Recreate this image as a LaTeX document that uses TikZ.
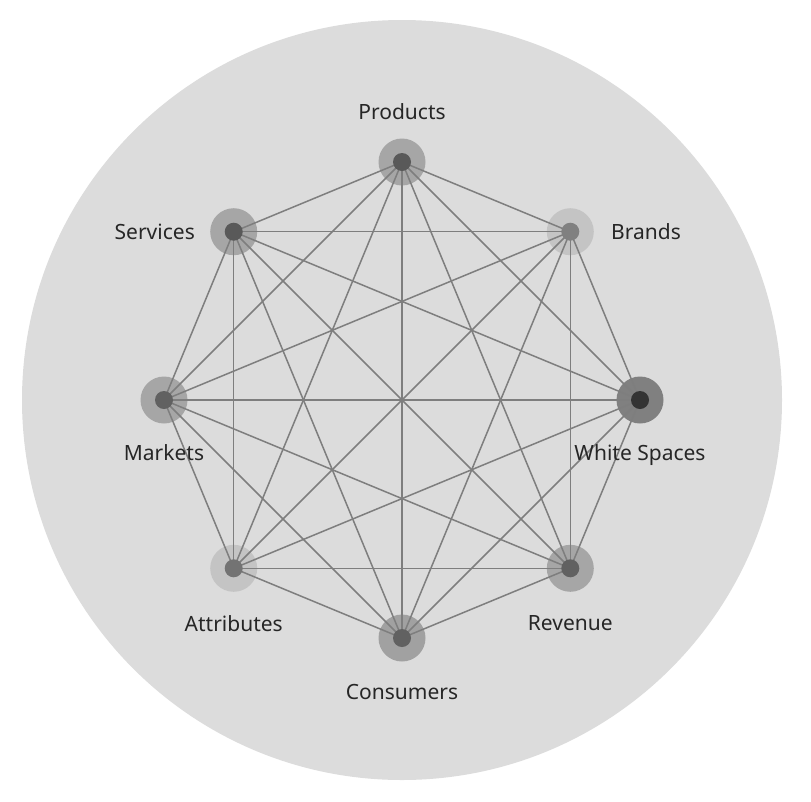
\documentclass[tikz,border=0pt]{standalone}
\usepackage{fontspec}
\setmainfont{Noto Sans}
\usetikzlibrary{positioning}
\pgfdeclarelayer{back}
\pgfdeclarelayer{mid}
\pgfsetlayers{back,mid,main}

\definecolor{disc}{HTML}{DCDCDC}
\definecolor{wire}{HTML}{7E7E7E}
\tikzset{
  dot/.style={circle, fill=#1, inner sep=0pt, minimum size=18pt},
  halo/.style={circle, fill=#1, inner sep=0pt, minimum size=47pt},
  edge/.style={draw=wire, line width=1.5pt},
  lbl/.style={font=\fontsize{21}{25}\selectfont, text=black!85, inner sep=0pt}
}

\begin{document}
\begin{tikzpicture}[x=1pt, y=-1pt, node distance=14pt]
  \useasboundingbox (0,0) rectangle (811,801);
  \begin{pgfonlayer}{back}
    \fill[disc] (402,400) circle (380);
  \end{pgfonlayer}

  % the eight dots, clockwise from the top
  \foreach \name/\ang/\hc/\dc in {prod/90/black!35/black!65, brand/45/black!23/black!50,
      white/0/black!50/black!80, rev/-45/black!35/black!62, cons/-90/black!37/black!62,
      attr/-135/black!23/black!55, mark/180/black!35/black!62, serv/135/black!35/black!65} {
    \node[dot=\dc] (\name) at ({402+238*cos(\ang)}, {400-238*sin(\ang)}) {};
    \begin{pgfonlayer}{back}
      \node[halo=\hc] (\name-h) at (\name) {};
    \end{pgfonlayer}
  }

  % every dot joined to every other
  \begin{pgfonlayer}{mid}
    \foreach \a/\i in {prod/1, brand/2, white/3, rev/4, cons/5, attr/6, mark/7, serv/8}
      \foreach \b/\j in {prod/1, brand/2, white/3, rev/4, cons/5, attr/6, mark/7, serv/8} {
        \ifnum\j>\i \draw[edge] (\a.center) -- (\b.center); \fi
      }
  \end{pgfonlayer}

  \node[lbl, above=of prod-h, yshift=4pt] (prod-t) {Products};
  \node[lbl, right=of brand-h, xshift=3pt] (brand-t) {Brands};
  \node[lbl, below=of white-h, yshift=-7pt] (white-t) {White Spaces};
  \node[lbl, below=of rev-h, yshift=-9pt] (rev-t) {Revenue};
  \node[lbl, below=of cons-h, yshift=-8pt] (cons-t) {Consumers};
  \node[lbl, below=of attr-h, yshift=-9pt] (attr-t) {Attributes};
  \node[lbl, below=of mark-h, yshift=-7pt] (mark-t) {Markets};
  \node[lbl, left=of serv-h, xshift=-1pt] (serv-t) {Services};
\end{tikzpicture}
\end{document}
